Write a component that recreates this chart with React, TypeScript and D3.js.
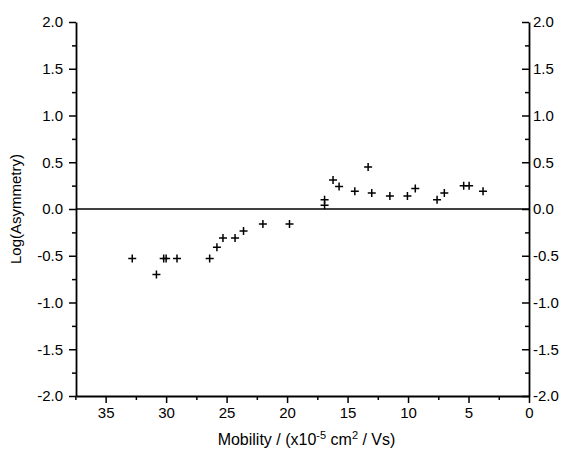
import React, { useEffect, useRef } from 'react';
import * as d3 from 'd3';

// mobility (x10^-5 cm2/Vs) and log(asymmetry)
const mobility = [32.8, 30.8, 30.2, 30.0, 29.1, 26.4, 25.8, 25.3, 24.3, 23.6, 22.0, 19.8,
  16.9, 16.9, 16.2, 15.7, 14.4, 13.3, 13.0, 11.5, 10.05, 9.4, 7.6, 7.0, 5.4, 4.95, 3.8];
const logAsym = [-0.53, -0.70, -0.53, -0.53, -0.53, -0.53, -0.41, -0.31, -0.31, -0.235, -0.16, -0.16,
  0.04, 0.10, 0.31, 0.24, 0.19, 0.45, 0.17, 0.14, 0.14, 0.22, 0.10, 0.17, 0.25, 0.25, 0.19];

const xMajor = [35, 30, 25, 20, 15, 10, 5, 0];
const xMinor = [37.5, 32.5, 27.5, 22.5, 17.5, 12.5, 7.5, 2.5];
const yMajor = [-2, -1.5, -1, -0.5, 0, 0.5, 1, 1.5, 2];
const yMinor = [-1.75, -1.25, -0.75, -0.25, 0.25, 0.75, 1.25, 1.75];

const W = 569;
const H = 449;
const margin = { top: 22, right: 40, bottom: 53, left: 76 };

const App = () => {
  const svgRef = useRef(null);

  useEffect(() => {
    const svg = d3.select(svgRef.current);
    svg.selectAll('*').remove();

    const x = d3.scaleLinear().domain([37.45, 0]).range([margin.left, W - margin.right]);
    const y = d3.scaleLinear().domain([-2, 2]).range([H - margin.bottom, margin.top]);
    const font = 'Arial, "Liberation Sans", sans-serif';
    const fmt = (v) => v.toFixed(1);

    // left axis, outward ticks
    const left = svg.append('g').attr('transform', `translate(${margin.left},0)`);
    left.call(d3.axisLeft(y).tickValues(yMajor).tickSize(7).tickSizeOuter(0).tickPadding(6).tickFormat(fmt));
    left.append('g').call(d3.axisLeft(y).tickValues(yMinor).tickSize(4).tickSizeOuter(0).tickFormat(() => ''))
      .select('.domain').remove();

    // right axis, inward ticks, labels outside
    const right = svg.append('g').attr('transform', `translate(${W - margin.right},0)`);
    right.call(d3.axisRight(y).tickValues(yMajor).tickSizeInner(-7).tickSizeOuter(0).tickPadding(4).tickFormat(fmt));
    right.append('g').call(d3.axisRight(y).tickValues(yMinor).tickSizeInner(-4).tickSizeOuter(0).tickFormat(() => ''))
      .select('.domain').remove();

    // bottom axis, outward ticks
    const bottom = svg.append('g').attr('transform', `translate(0,${H - margin.bottom})`);
    bottom.call(d3.axisBottom(x).tickValues(xMajor).tickSize(7).tickSizeOuter(0).tickPadding(4).tickFormat(d3.format('d')));
    bottom.append('g').call(d3.axisBottom(x).tickValues(xMinor).tickSize(4).tickSizeOuter(0).tickFormat(() => ''))
      .select('.domain').remove();

    svg.selectAll('.domain').attr('stroke', '#000').attr('stroke-width', 1.8);
    svg.selectAll('.tick line').attr('stroke', '#000').attr('stroke-width', 1.5);
    svg.selectAll('.tick text').attr('fill', '#000').style('font-family', font).style('font-size', '15px');

    // zero line
    svg.append('line')
      .attr('x1', margin.left).attr('x2', W - margin.right)
      .attr('y1', y(0)).attr('y2', y(0))
      .attr('stroke', '#000').attr('stroke-width', 1.5);

    // crosses
    const pts = mobility.map((m, i) => ({ m, v: logAsym[i] }));
    const s = 4;
    const g = svg.append('g').attr('stroke', '#000').attr('stroke-width', 1.5);
    g.selectAll('path').data(pts).join('path')
      .attr('d', (d) => {
        const cx = x(d.m);
        const cy = y(d.v);
        return `M${cx - s},${cy}H${cx + s}M${cx},${cy - s}V${cy + s}`;
      });

    // y title
    svg.append('text')
      .attr('transform', `translate(21,${y(0)}) rotate(-90)`)
      .attr('text-anchor', 'middle')
      .style('font-family', font).style('font-size', '15px')
      .text('Log(Asymmetry)');

    // x title
    const xt = svg.append('text')
      .attr('x', (margin.left + W - margin.right) / 2 + 4)
      .attr('y', 445)
      .attr('text-anchor', 'middle')
      .style('font-family', font).style('font-size', '16px');
    xt.append('tspan').text('Mobility / (x10');
    xt.append('tspan').attr('dy', -6).style('font-size', '11px').text('-5');
    xt.append('tspan').attr('dy', 6).text(' cm');
    xt.append('tspan').attr('dy', -6).style('font-size', '11px').text('2');
    xt.append('tspan').attr('dy', 6).text(' / Vs)');
  }, []);

  return (
    <svg
      ref={svgRef}
      width={W}
      height={H}
      style={{ position: 'absolute', left: 0, top: 0, background: '#fff' }}
    />
  );
};

export default App;
